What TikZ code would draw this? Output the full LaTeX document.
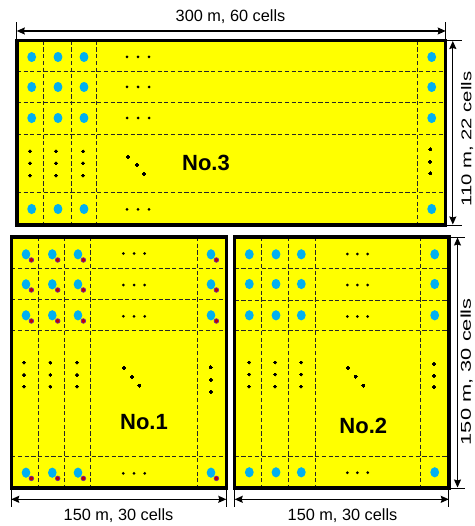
\documentclass[tikz,border=0pt]{standalone}
\usepackage{fontspec}
\setmainfont{Liberation Sans}
\usetikzlibrary{arrows.meta}
\definecolor{fieldyellow}{HTML}{FFFF00}
\definecolor{wellblue}{HTML}{00B0F0}
\definecolor{wellred}{HTML}{C00000}
\definecolor{wellrim}{HTML}{7030A0}
\definecolor{gridgray}{HTML}{262626}
\tikzset{
  field/.style={fill=fieldyellow},
  border/.style={draw=black,line width=3.4pt},
  grid/.style={draw=gridgray,line width=0.9pt,dash pattern=on 4.2pt off 2.5pt},
  wellb/.style={fill=wellblue},
  wellr/.style={fill=wellred,draw=wellrim,line width=0.7pt},
  dimline/.style={draw=black,line width=1.3pt,{Stealth[length=8pt,width=7pt,inset=1pt]}-{Stealth[length=8pt,width=7pt,inset=1pt]}},
  extline/.style={draw=black,line width=0.9pt},
  dimlabel/.style={inner sep=0pt,font=\fontsize{16.3}{19}\selectfont},
  vlabel/.style={inner sep=0pt,rotate=90,font=\fontsize{14.2}{17}\selectfont},
  blocklabel/.style={inner sep=0pt,font=\fontsize{22}{26}\selectfont\bfseries},
}
\newcommand{\dotpt}[2]{\fill (#1,#2) circle (1.5);}
\begin{document}
\begin{tikzpicture}[x=1pt,y=-1pt]
\useasboundingbox (0,0) rectangle (474,526);

% ---------------- Block No.3 ----------------
\fill[field] (16.8,40.8) rectangle (445.7,225);
\foreach \x in {43.7,71,96.7,417.7} \draw[grid] (\x,40.8) -- (\x,225);
\foreach \y in {71,102.3,134.3,192.3} \draw[grid] (16.8,\y) -- (445.7,\y);
\foreach \x in {31.7,58,84,431.7}
  \foreach \y in {57,87,118,209}
    \fill[wellb] (\x,\y) ellipse (4.4 and 5.1);
\foreach \y in {57,87,118,209.3}
  \foreach \x in {127,138,149} \dotpt{\x}{\y}
\foreach \x in {30,56,83} \foreach \y in {151.5,163.3,175.7} \dotpt{\x}{\y}
\foreach \y in {149.5,161.7,173.5} \dotpt{430}{\y}
\dotpt{128}{156.7}\dotpt{136.7}{165}\dotpt{144}{174}
\draw[border] (16.8,40.8) rectangle (445.7,225);
\node[blocklabel] (n3) at (206,163) {No.3};

% ---------------- Block No.1 ----------------
\fill[field] (11.2,237) rectangle (226.3,488);
\foreach \x in {38.3,64.3,90.7,197.7} \draw[grid] (\x,237) -- (\x,488);
\foreach \y in {268.3,299.3,330.7,456.7} \draw[grid] (11.2,\y) -- (226.3,\y);
\foreach \x in {26,52.3,78,211}
  \foreach \y in {254.3,284.3,315.3,472.7} {
    \fill[wellb] (\x,\y) ellipse (4.3 and 5.1);
    \filldraw[wellr] (\x+5.4,\y+5.7) circle (2.3);
  }
\foreach \y in {253.5,285,316.3,473.3}
  \foreach \x in {123.3,134,144.7} \dotpt{\x}{\y}
\foreach \x in {24,50.3,77} \foreach \y in {362.7,375,386.7} \dotpt{\x}{\y}
\foreach \y in {367.3,380,392} \dotpt{210.7}{\y}
\dotpt{124.3}{368}\dotpt{132}{376.7}\dotpt{139.3}{385.7}
\draw[border] (11.2,237) rectangle (226.3,488);
\node[blocklabel] (n1) at (144,422.5) {No.1};

% ---------------- Block No.2 ----------------
\fill[field] (234.7,237) rectangle (448.8,488);
\foreach \x in {261.7,288.3,315.7,420.7} \draw[grid] (\x,237) -- (\x,488);
\foreach \y in {268.3,300,330.7,456.7} \draw[grid] (234.7,\y) -- (448.8,\y);
\foreach \x in {249.3,276,301.3,434.7}
  \foreach \y in {254.3,284,315.3,472.3}
    \fill[wellb] (\x,\y) ellipse (4.4 and 5.1);
\foreach \y in {254,285,316.5,472.7}
  \foreach \x in {347.3,357.3,367.7} \dotpt{\x}{\y}
\foreach \x in {249,275,301} \foreach \y in {362.5,374.5,386.7} \dotpt{\x}{\y}
\foreach \y in {364.3,375.7,387.3} \dotpt{434}{\y}
\dotpt{348}{367.7}\dotpt{355.7}{376.7}\dotpt{363.3}{385.7}
\draw[border] (234.7,237) rectangle (448.8,488);
\node[blocklabel] (n2) at (363.3,426) {No.2};

% ---------------- Dimensions ----------------
% top of No.3
\coordinate (t3l) at (16.8,31);
\coordinate (t3r) at (445.7,31);
\draw[extline] (16.8,22.5) -- (16.8,40);
\draw[extline] (445.7,22.5) -- (445.7,40);
\draw[dimline] (t3l) -- (t3r);
\node[dimlabel,anchor=base] (l3w) at (230.5,21.7) {300 m, 60 cells};

% right of No.3
\coordinate (r3t) at (452.8,41);
\coordinate (r3b) at (452.8,224.5);
\draw[extline] (445.7,40.8) -- (461.5,40.8);
\draw[extline] (445.7,225) -- (462,225);
\draw[dimline,line width=1pt] (r3t) -- (r3b);
\node[vlabel,anchor=base] (l3h) at (471.3,139.2) {\resizebox{135pt}{\height}{110 m, 22 cells}};

% bottom of No.1
\coordinate (b1l) at (11.2,499.3);
\coordinate (b1r) at (226.3,499.3);
\draw[extline] (11.2,488) -- (11.2,507);
\draw[extline] (226.3,488) -- (226.3,507);
\draw[dimline] (b1l) -- (b1r);
\node[dimlabel,anchor=base] (l1w) at (118.5,520.5) {150 m, 30 cells};

% bottom of No.2
\coordinate (b2l) at (234.7,499.3);
\coordinate (b2r) at (448.8,499.3);
\draw[extline] (234.7,488) -- (234.7,507);
\draw[extline] (448.8,488) -- (448.8,507);
\draw[dimline] (b2l) -- (b2r);
\node[dimlabel,anchor=base] (l2w) at (342.5,520.3) {150 m, 30 cells};

% right of No.2
\coordinate (r2t) at (457.5,237.5);
\coordinate (r2b) at (457.5,487.5);
\draw[extline] (448.8,237) -- (465,237);
\draw[extline] (448.8,488) -- (465,488);
\draw[dimline,line width=1pt] (r2t) -- (r2b);
\node[vlabel,anchor=base] (l2h) at (470.8,371.7) {\resizebox{147pt}{\height}{150 m, 30 cells}};
\end{tikzpicture}
\end{document}
